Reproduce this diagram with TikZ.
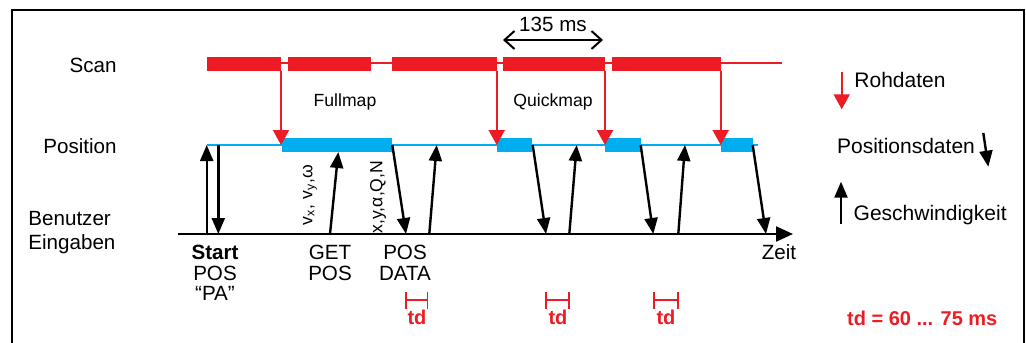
\documentclass[tikz,border=0pt]{standalone}
\usepackage{fontspec}
\setmainfont{Liberation Sans}
\usetikzlibrary{arrows.meta}

\definecolor{scanred}{RGB}{237,28,36}
\definecolor{posblue}{RGB}{0,174,239}

\begin{document}
\begin{tikzpicture}[
    x={(0.5pt,0)}, y={(0,-0.5pt)},
    >={Triangle[length=8pt,width=6.5pt]},
    lbl/.style={font=\fontsize{10.3}{10.3}\selectfont, inner sep=0pt},
    mapname/.style={font=\fontsize{8.8}{10}\selectfont, inner sep=0pt},
    legend/.style={font=\fontsize{10.5}{12}\selectfont, inner sep=0pt, anchor=west},
    vals/.style={font=\fontsize{8.8}{10}\selectfont, inner sep=0pt, rotate=90},
    tdlbl/.style={font=\bfseries\fontsize{10}{12}\selectfont, text=scanred, inner sep=0pt},
    datarrow/.style={->, line width=1.2pt},
    rawarrow/.style={-{Triangle[length=7.5pt,width=8pt]}, line width=1pt, scanred},
    tdspan/.style={{Bar[width=8.5pt]}-{Bar[width=8.5pt]}, line width=0.9pt, scanred},
  ]
    \useasboundingbox (0,0) rectangle (1026,342);
    \draw[line width=1.3pt] (12,350) |- (1024,10) -- (1024,350);

    % Zeilenbeschriftung
    \node[lbl, anchor=east] (scan) at (117,65) {Scan};
    \node[lbl, anchor=east] (pos) at (117,146) {Position};
    \node[lbl, anchor=west, align=left, font=\fontsize{10.3}{12}\selectfont] (user) at (28,233) {Benutzer\\Eingaben};

    % Scan: Rohdaten-Bloecke
    \draw[scanred, line width=1pt] (207,63.5) -- (782,63.5);
    \fill[scanred] (206.7,57) rectangle (281,71);
    \fill[scanred] (287.7,57) rectangle (370.7,71);
    \fill[scanred] (392,57) rectangle (496.7,71);
    \fill[scanred] (503.3,57) rectangle (605,71);
    \fill[scanred] (611.7,57) rectangle (720.7,71);
    \draw[{Straight Barb[length=5pt,width=9pt]}-{Straight Barb[length=5pt,width=9pt]}, line width=1pt]
      (503,40) -- node[lbl, above=3.5pt] (period) {135 ms} (603,40);
    \node[mapname] (full) at (345,102) {Fullmap};
    \node[mapname] (quick) at (553,102) {Quickmap};

    % Position: Berechnungsbloecke
    \draw[posblue, line width=1.2pt] (207,145) -- (758,145);
    \fill[posblue] (281.7,138) rectangle (391.7,152);
    \fill[posblue] (497.3,138) rectangle (532.3,152);
    \fill[posblue] (605,138) rectangle (640.7,152);
    \fill[posblue] (721,138) rectangle (752.7,152);

    % Zeitachse
    \coordinate (t0) at (178,234);
    \coordinate (t1) at (793,234);
    \draw[-{Triangle[length=8.5pt,width=7.5pt]}, line width=1.2pt] (t0) -- (t1);
    \node[lbl] (zeit) at (779,252) {Zeit};

    % Rohdaten -> Position
    \foreach \px [count=\i] in {281,496.7,605,720.7} {
      \coordinate (r\i a) at (\px,71);
      \coordinate (r\i b) at (\px,145);
      \draw[rawarrow] (r\i a) -- (r\i b);
    }

    % Benutzer <-> Position
    \coordinate (a1) at (206.7,234);  \coordinate (b1) at (206.7,145);
    \coordinate (a2) at (218.3,145);  \coordinate (b2) at (218.3,234);
    \coordinate (a3) at (330,234);    \coordinate (b3) at (338.3,152);
    \coordinate (a4) at (392.3,145);  \coordinate (b4) at (406,234);
    \coordinate (a5) at (429.3,234);  \coordinate (b5) at (436.7,145);
    \coordinate (a6) at (532.7,145);  \coordinate (b6) at (546,234);
    \coordinate (a7) at (569.3,234);  \coordinate (b7) at (576.7,145);
    \coordinate (a8) at (640.7,145);  \coordinate (b8) at (653.3,234);
    \coordinate (a9) at (678.3,234);  \coordinate (b9) at (685,145);
    \coordinate (a10) at (752.7,145); \coordinate (b10) at (766,234);
    \foreach \i in {1,...,10}
      \draw[datarrow] (a\i) -- (b\i);

    \node[vals] (vel) at (310,195) {v\textsubscript{x}, v\textsubscript{y},ω};
    \node[vals] (xya) at (378,197) {x,y,α,Q,N};

    % Befehle
    \node[lbl, align=center, anchor=north] (start) at (215,245) {\textbf{Start}\\POS\\“PA”};
    \node[lbl, align=center, anchor=north] (getpos) at (330,245) {GET\\POS};
    \node[lbl, align=center, anchor=north] (posdata) at (405,245) {POS\\DATA};

    % Totzeiten
    \coordinate (td1a) at (405,300);   \coordinate (td1b) at (428.3,300);
    \coordinate (td2a) at (545,300);   \coordinate (td2b) at (570,300);
    \coordinate (td3a) at (653.3,300); \coordinate (td3b) at (679,300);
    \draw[tdspan] (td1a) -- (td1b);
    \draw[tdspan] (td2a) -- (td2b);
    \draw[tdspan] (td3a) -- (td3b);
    \node[tdlbl] (td1) at (417,317) {td};
    \node[tdlbl] (td2) at (558,317) {td};
    \node[tdlbl] (td3) at (666,317) {td};

    % Legende
    \coordinate (lr1) at (841.7,71.7);  \coordinate (lr2) at (841.7,109.3);
    \draw[rawarrow] (lr1) -- (lr2);
    \node[legend] (raw) at (854,80) {Rohdaten};
    \node[legend] (posd) at (836.7,146) {Positionsdaten};
    \coordinate (lp1) at (983.3,133);   \coordinate (lp2) at (988.3,166.7);
    \draw[datarrow] (lp1) -- (lp2);
    \coordinate (lg1) at (841,224.3);   \coordinate (lg2) at (841,181.7);
    \draw[datarrow] (lg1) -- (lg2);
    \node[legend] (speed) at (853.3,215) {Geschwindigkeit};
    \node[tdlbl, anchor=west, font=\bfseries\fontsize{10}{12}\selectfont] (tdrange) at (846.7,318) {td = 60 ... 75 ms};
\end{tikzpicture}
\end{document}
